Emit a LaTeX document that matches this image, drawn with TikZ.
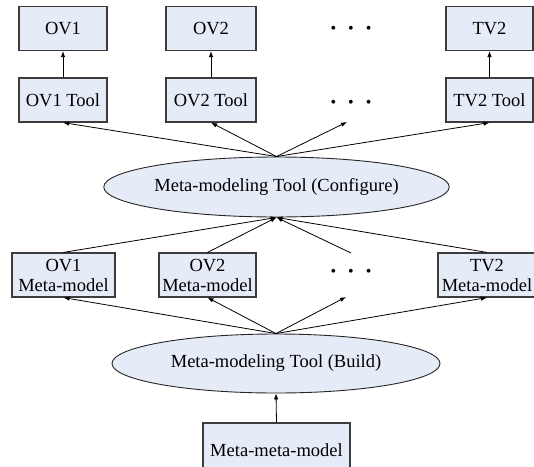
\documentclass[tikz,border=0pt]{standalone}
\usepackage{fontspec}
\setmainfont{Liberation Serif}
\usetikzlibrary{arrows.meta,shapes.geometric}
\definecolor{boxfill}{RGB}{230,236,247}
\definecolor{boxline}{RGB}{60,60,60}
\tikzset{
  box/.style={draw=boxline, line width=1.2pt, fill=boxfill, inner sep=0pt,
    font=\fontsize{18.5}{20}\selectfont, align=center, text=black},
  oval/.style={ellipse, draw=black!85, line width=0.9pt, fill=boxfill, inner sep=0pt,
    font=\fontsize{18.5}{20}\selectfont, text=black},
  arr/.style={-{Latex[length=6pt,width=4.5pt]}, line width=0.8pt, black},
  dotsnode/.style={inner sep=0pt, font=\fontsize{16}{20}\selectfont},
}
\begin{document}
\begin{tikzpicture}[x=1pt,y=-1pt]
\useasboundingbox (0,0) rectangle (534,466);
\clip (0,0) rectangle (534,466);
% top row
\node[box, minimum width=88, minimum height=44] (ov1) at (63,28.5) {OV1};
\node[box, minimum width=90, minimum height=44] (ov2) at (211,28.5) {OV2};
\node[box, minimum width=87, minimum height=44] (tv2) at (489.5,28.5) {TV2};
\node[dotsnode] (dotsA) at (351,30) {\textbullet\hspace{12pt}\textbullet\hspace{12pt}\textbullet};
% tools row
\node[box, minimum width=88, minimum height=44] (ov1t) at (63,100) {OV1 Tool};
\node[box, minimum width=90, minimum height=44] (ov2t) at (211,100) {OV2 Tool};
\node[box, minimum width=87, minimum height=44] (tv2t) at (489.5,100) {TV2 Tool};
\node[dotsnode] (dotsB) at (351,104) {\textbullet\hspace{12pt}\textbullet\hspace{12pt}\textbullet};
\coordinate (dotsBin) at (347,122);
% configure ellipse
\node[oval, minimum width=329, minimum height=60] (cfg) at (276.5,187) {Meta-modeling Tool (Configure)};
% meta-models
\node[box, minimum width=103, minimum height=44] (ov1m) at (63.5,275) {OV1\\Meta-model};
\node[box, minimum width=97, minimum height=44] (ov2m) at (207.5,275) {OV2\\Meta-model};
\node[box, minimum width=98, minimum height=44] (tv2m) at (487,275) {TV2\\Meta-model};
\node[dotsnode] (dotsC) at (351,273) {\textbullet\hspace{12pt}\textbullet\hspace{12pt}\textbullet};
\coordinate (dotsCout) at (351,253);
\coordinate (dotsCin) at (346,297);
% build ellipse
\node[oval, minimum width=328, minimum height=59] (bld) at (276,363.5) {Meta-modeling Tool (Build)};
% meta-meta-model
\node[box, minimum width=147, minimum height=54] (mmm) at (276.5,450) {Meta-meta-model};
% connectors
\draw[arr] (ov1t.north) -- (ov1.south);
\draw[arr] (ov2t.north) -- (ov2.south);
\draw[arr] (tv2t.north) -- (tv2.south);
\draw[arr] (cfg.north) -- (ov1t.south);
\draw[arr] (cfg.north) -- (ov2t.south);
\draw[arr] (cfg.north) -- (dotsBin);
\draw[arr] (cfg.north) -- (tv2t.south);
\draw[arr] (ov1m.north) -- (cfg.south);
\draw[arr] (ov2m.north) -- (cfg.south);
\draw[arr] (dotsCout) -- (cfg.south);
\draw[arr] (tv2m.north) -- (cfg.south);
\draw[arr] (bld.north) -- (ov1m.south);
\draw[arr] (bld.north) -- (ov2m.south);
\draw[arr] (bld.north) -- (dotsCin);
\draw[arr] (bld.north) -- (tv2m.south);
\draw[arr] (mmm.north) -- (bld.south);
\end{tikzpicture}
\end{document}
